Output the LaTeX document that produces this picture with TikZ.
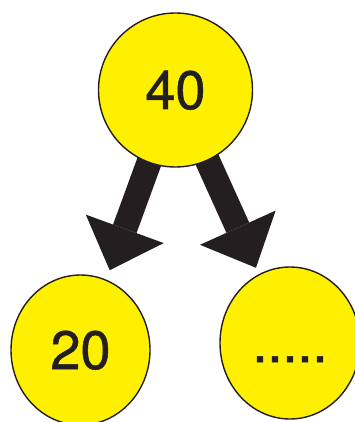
\documentclass[tikz,border=0pt]{standalone}
\usepackage{fontspec}
\setmainfont{TeX Gyre Heros}
\newfontfamily\keyfont[FakeBold=1]{TeX Gyre Heros}
\usetikzlibrary{arrows.meta, positioning, shapes.geometric, backgrounds}
\definecolor{nodefill}{HTML}{FFF000}
\definecolor{inkdark}{HTML}{231F20}
\tikzset{
  treenode/.style = {draw=inkdark, line width=1.4pt, fill=nodefill, ellipse,
                     inner sep=0pt, text height=38pt, text depth=0pt,
                     font=\keyfont\fontsize{54}{60}\selectfont, text=inkdark},
  bigflow/.style  = {draw=inkdark, line width=25pt,
                     -{Triangle[length=44pt, width=83pt, line width=0pt]}},
}

\begin{document}
\begin{tikzpicture}[x=1pt, y=-1pt]
    \useasboundingbox (0,0) rectangle (355,422);

    \node[treenode, minimum width=154pt, minimum height=154pt] (root) at (175.5,90)  {40};
    \node[treenode, minimum width=139pt, minimum height=150pt] (lkid) at (80.5,350)  {20};
    \node[treenode, minimum width=140pt, minimum height=152pt] (rkid) at (290,343)   {.....};

    \begin{scope}[on background layer]
      \draw[bigflow, shorten >=10pt] (root.center) -- (lkid);
      \draw[bigflow, shorten >=7pt]  (root.center) -- (rkid);
    \end{scope}
\end{tikzpicture}
\end{document}
